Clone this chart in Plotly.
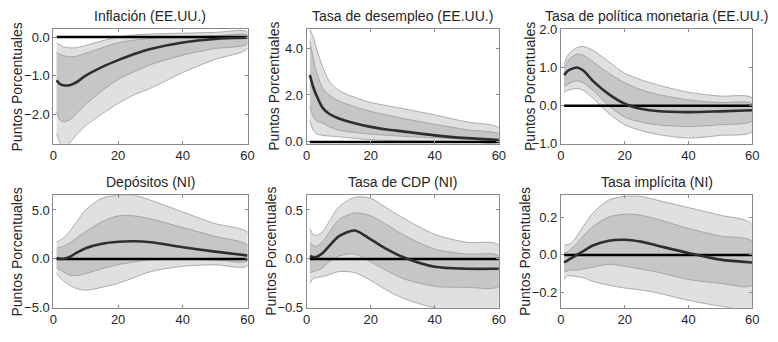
import plotly.graph_objects as go

H = [1, 2, 3, 5, 7, 10, 15, 20, 25, 30, 40, 50, 60]

titles = ["Inflación (EE.UU.)", "Tasa de desempleo (EE.UU.)", "Tasa de política monetaria (EE.UU.)",
          "Depósitos (NI)", "Tasa de CDP (NI)", "Tasa implícita (NI)"]

# Panel 1: Inflación
inf_med = [-1.12, -1.22, -1.25, -1.25, -1.18, -1.0, -0.78, -0.6, -0.44, -0.31, -0.14, -0.05, -0.02]
inf_in_hi = [-0.4, -0.45, -0.48, -0.51, -0.5, -0.42, -0.28, -0.15, -0.08, -0.04, 0.0, 0.03, 0.05]
inf_in_lo = [-1.95, -2.15, -2.2, -2.15, -2.0, -1.75, -1.4, -1.1, -0.9, -0.72, -0.47, -0.3, -0.18]
inf_out_hi = [-0.15, -0.2, -0.25, -0.28, -0.28, -0.22, -0.1, 0.0, 0.05, 0.08, 0.1, 0.12, 0.13]
inf_out_lo = [-2.5, -2.75, -2.85, -2.75, -2.55, -2.3, -2.0, -1.72, -1.5, -1.33, -0.92, -0.58, -0.3]

# Panel 2: Desempleo
des_med = [2.85, 2.35, 2.0, 1.45, 1.2, 1.0, 0.8, 0.64, 0.53, 0.45, 0.28, 0.16, 0.08]
des_in_hi = [4.3, 3.6, 3.0, 2.3, 2.0, 1.75, 1.5, 1.3, 1.15, 1.0, 0.75, 0.52, 0.33]
des_in_lo = [1.5, 1.1, 0.9, 0.8, 0.65, 0.5, 0.4, 0.33, 0.28, 0.24, 0.17, 0.12, 0.1]
des_out_hi = [4.8, 4.5, 4.0, 3.2, 2.6, 2.2, 1.9, 1.68, 1.55, 1.42, 1.15, 0.85, 0.6]
des_out_lo = [0.9, 0.5, 0.35, 0.28, 0.25, 0.22, 0.15, 0.1, 0.07, 0.05, 0.03, 0.01, 0.0]

# Panel 3: Tasa de política monetaria
tpm_med = [0.8, 0.9, 0.95, 1.0, 0.92, 0.65, 0.3, 0.05, -0.08, -0.14, -0.17, -0.15, -0.12]
tpm_in_hi = [1.0, 1.15, 1.25, 1.35, 1.32, 1.15, 0.85, 0.6, 0.42, 0.3, 0.15, 0.08, 0.05]
tpm_in_lo = [0.5, 0.55, 0.6, 0.65, 0.6, 0.4, 0.0, -0.3, -0.43, -0.5, -0.55, -0.5, -0.4]
tpm_out_hi = [1.1, 1.3, 1.4, 1.52, 1.55, 1.45, 1.15, 0.85, 0.68, 0.55, 0.35, 0.25, 0.2]
tpm_out_lo = [0.35, 0.4, 0.42, 0.45, 0.4, 0.2, -0.2, -0.5, -0.65, -0.75, -0.85, -0.78, -0.68]

# Panel 4: Depósitos
dep_med = [0.1, 0.02, 0.0, 0.2, 0.6, 1.1, 1.55, 1.75, 1.8, 1.7, 1.2, 0.75, 0.35]
dep_in_hi = [1.1, 1.2, 1.3, 1.6, 2.1, 2.8, 3.8, 4.4, 4.4, 4.1, 3.2, 2.3, 1.4]
dep_in_lo = [-0.9, -1.1, -1.3, -1.65, -1.7, -1.5, -1.0, -0.6, -0.3, -0.1, -0.05, -0.1, -0.2]
dep_out_hi = [1.7, 1.9, 2.1, 2.8, 3.7, 5.0, 6.2, 6.5, 6.5, 6.0, 4.8, 3.6, 2.7]
dep_out_lo = [-1.5, -1.9, -2.2, -2.7, -3.0, -3.2, -2.9, -2.5, -1.9, -1.3, -0.75, -0.6, -0.7]

# Panel 5: Tasa de CDP
cdp_med = [0.03, 0.02, 0.02, 0.06, 0.13, 0.23, 0.29, 0.2, 0.1, 0.02, -0.08, -0.1, -0.1]
cdp_in_hi = [0.17, 0.14, 0.13, 0.18, 0.27, 0.4, 0.47, 0.44, 0.35, 0.25, 0.1, 0.05, 0.03]
cdp_in_lo = [-0.14, -0.13, -0.12, -0.09, -0.03, 0.03, 0.05, -0.03, -0.12, -0.2, -0.28, -0.29, -0.28]
cdp_out_hi = [0.31, 0.25, 0.24, 0.28, 0.38, 0.53, 0.63, 0.62, 0.52, 0.42, 0.25, 0.17, 0.14]
cdp_out_lo = [-0.25, -0.2, -0.19, -0.18, -0.16, -0.13, -0.14, -0.22, -0.32, -0.4, -0.5, -0.53, -0.53]

# Panel 6: Tasa implícita
imp_med = [-0.04, -0.03, -0.02, 0.0, 0.02, 0.05, 0.075, 0.08, 0.07, 0.05, 0.01, -0.025, -0.04]
imp_in_hi = [0.01, 0.015, 0.03, 0.06, 0.1, 0.15, 0.2, 0.215, 0.21, 0.19, 0.14, 0.1, 0.07]
imp_in_lo = [-0.09, -0.085, -0.08, -0.08, -0.075, -0.065, -0.05, -0.06, -0.075, -0.09, -0.13, -0.15, -0.16]
imp_out_hi = [0.05, 0.055, 0.06, 0.1, 0.15, 0.22, 0.29, 0.31, 0.31, 0.29, 0.25, 0.21, 0.16]
imp_out_lo = [-0.13, -0.11, -0.11, -0.115, -0.12, -0.14, -0.16, -0.175, -0.185, -0.2, -0.24, -0.27, -0.28]

panels = [
    (inf_med, inf_in_hi, inf_in_lo, inf_out_hi, inf_out_lo),
    (des_med, des_in_hi, des_in_lo, des_out_hi, des_out_lo),
    (tpm_med, tpm_in_hi, tpm_in_lo, tpm_out_hi, tpm_out_lo),
    (dep_med, dep_in_hi, dep_in_lo, dep_out_hi, dep_out_lo),
    (cdp_med, cdp_in_hi, cdp_in_lo, cdp_out_hi, cdp_out_lo),
    (imp_med, imp_in_hi, imp_in_lo, imp_out_hi, imp_out_lo),
]

y_ranges = [[-2.77, 0.2], [-0.08, 4.8], [-1.0, 2.0], [-5.0, 6.5], [-0.5, 0.65], [-0.28, 0.315]]
y_ticks = [[-2, -1, 0], [0, 2, 4], [-1, 0, 1, 2], [-5, 0, 5], [-0.5, 0, 0.5], [-0.2, 0, 0.2]]
x_ticks = [0, 20, 40, 60]

# page body has an 8px margin; figure is sized to fit the window exactly
OFF = 8
W, Hpx = 778 - 2 * OFF, 342 - 2 * OFF
col_px = [(50, 247), (307, 502), (565, 759)]
row_px = [(23, 143), (197, 315)]
ylab_x = [13, 273, 533, 13, 270, 528]

OUT_C = "#e0e0e0"
IN_C = "#c6c6c6"
EDGE = "#999999"
MED_C = "#2e2e2e"
AX_C = "#8a8a8a"
TXT = "#262626"
FONT = "Liberation Sans, Arial, sans-serif"

fig = go.Figure()
layout = dict(
    width=W, height=Hpx, margin=dict(l=0, r=0, t=0, b=0),
    paper_bgcolor="white", plot_bgcolor="white", showlegend=False,
    font=dict(family=FONT, size=13, color=TXT),
)
annotations = []

for i, (med, ihi, ilo, ohi, olo) in enumerate(panels):
    r, c = divmod(i, 3)
    xa = "x" if i == 0 else f"x{i+1}"
    ya = "y" if i == 0 else f"y{i+1}"
    fig.add_trace(go.Scatter(x=H + H[::-1], y=ohi + olo[::-1], fill="toself", fillcolor=OUT_C,
                             line=dict(color=EDGE, width=0.8, shape="spline", smoothing=0.8),
                             mode="lines", xaxis=xa, yaxis=ya, hoverinfo="skip"))
    fig.add_trace(go.Scatter(x=H + H[::-1], y=ihi + ilo[::-1], fill="toself", fillcolor=IN_C,
                             line=dict(color=EDGE, width=0.8, shape="spline", smoothing=0.8),
                             mode="lines", xaxis=xa, yaxis=ya, hoverinfo="skip"))
    fig.add_trace(go.Scatter(x=[H[0], H[-1]], y=[0, 0], mode="lines",
                             line=dict(color="black", width=2.5), xaxis=xa, yaxis=ya))
    fig.add_trace(go.Scatter(x=H, y=med, mode="lines",
                             line=dict(color=MED_C, width=2.6, shape="spline", smoothing=0.8),
                             xaxis=xa, yaxis=ya))

    x0, x1 = col_px[c]
    t0, b0 = row_px[r]
    x0, x1, t0, b0 = x0 - OFF, x1 - OFF, t0 - OFF, b0 - OFF
    xdom = [x0 / W, x1 / W]
    ydom = [1 - b0 / Hpx, 1 - t0 / Hpx]
    axcommon = dict(showline=True, linecolor=AX_C, linewidth=1, mirror="ticks",
                    ticks="inside", ticklen=3, tickcolor=AX_C, showgrid=False, zeroline=False,
                    tickfont=dict(family=FONT, size=13, color=TXT))
    layout["xaxis" if i == 0 else f"xaxis{i+1}"] = dict(
        domain=xdom, anchor=ya, range=[0, 60], tickvals=x_ticks, **axcommon)
    layout["yaxis" if i == 0 else f"yaxis{i+1}"] = dict(
        domain=ydom, anchor=xa, range=y_ranges[i], tickvals=y_ticks[i], tickformat=".1f",
        **axcommon)
    annotations.append(dict(text=titles[i], xref="paper", yref="paper",
                            x=(x0 + x1) / 2 / W, y=1 - (t0 - 3) / Hpx,
                            xanchor="center", yanchor="bottom", showarrow=False,
                            font=dict(family=FONT, size=14, color=TXT)))
    annotations.append(dict(text="Puntos Porcentuales", xref="paper", yref="paper",
                            x=(ylab_x[i] - OFF) / W, y=1 - (t0 + b0) / 2 / Hpx, textangle=-90,
                            xanchor="center", yanchor="middle", showarrow=False,
                            font=dict(family=FONT, size=14, color=TXT)))

layout["annotations"] = annotations
fig.update_layout(**layout)
fig.write_html("out.html")
